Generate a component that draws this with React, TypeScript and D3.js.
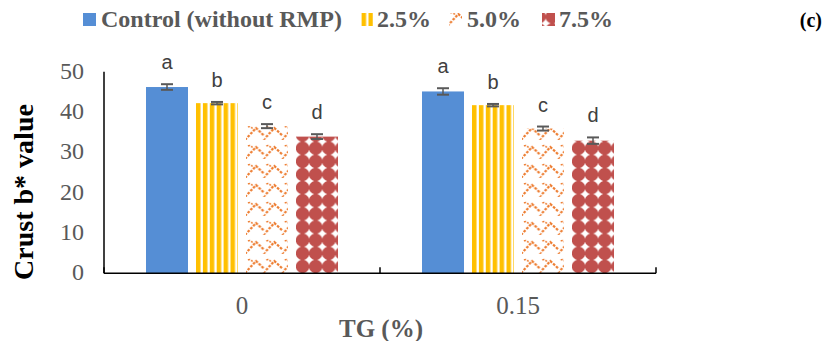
import React from "react";
import * as d3 from "d3";

const categories = ["0", "0.15"];
const seriesNames = ["Control (without RMP)", "2.5%", "5.0%", "7.5%"];
const control = [46.2, 45.1];
const rmp25 = [42.2, 41.7];
const rmp50 = [36.5, 35.9];
const rmp75 = [33.9, 32.9];
const errControl = [0.7, 0.8];
const err25 = [0.3, 0.3];
const err50 = [0.5, 0.5];
const err75 = [0.6, 0.8];
const letters = ["a", "b", "c", "d"];
const yTicks = [0, 10, 20, 30, 40, 50];

const values = [control, rmp25, rmp50, rmp75];
const errors = [errControl, err25, err50, err75];
const fills = ["#558ED5", "url(#pYellow)", "url(#pOrange)", "url(#pRed)"];

const W = 827, H = 341;
const plotLeft = 104, plotRight = 656, plotTop = 71.7, plotBottom = 273.3;

export default function App() {
  const x = d3.scaleBand().domain(categories).range([plotLeft, plotRight]).padding(0);
  const groupW = 192;
  const xi = d3.scaleBand().domain(seriesNames).range([0, groupW]).paddingInner(0.16).paddingOuter(0);
  const y = d3.scaleLinear().domain([0, 50]).range([plotBottom, plotTop]);
  const serif = "'Liberation Serif', 'Times New Roman', serif";
  const grey = "#595959";

  const legendItems = [
    { x: 83, tx: 101, fill: fills[0] },
    { x: 360, tx: 377, fill: fills[1] },
    { x: 449, tx: 467, fill: fills[2] },
    { x: 542, tx: 559, fill: fills[3] },
  ];

  return (
    <svg width={W} height={H} style={{ position: "absolute", left: 0, top: 0, display: "block", background: "#fff" }}>
      <defs>
        <pattern id="pYellow" patternUnits="userSpaceOnUse" x={196} y={0} width={6.9} height={10}>
          <rect x={0} y={0} width={4.5} height={10} fill="#FFC000" />
        </pattern>
        <pattern id="pOrange" patternUnits="userSpaceOnUse" x={246} y={273} width={18.4} height={19}>
          <path d="M-1,19 L10,7 L18.4,15 M17.4,20 L19.4,18" fill="none" stroke="#ED7D31" strokeWidth={2.2} strokeDasharray="2.6,1.4" />
          <path d="M2,6 Q5,4 7,9" fill="none" stroke="#ED7D31" strokeWidth={1.6} strokeDasharray="2,1.5" />
        </pattern>
        <pattern id="pRed" patternUnits="userSpaceOnUse" x={296} y={273} width={13.14} height={13.14}>
          <circle cx={6.57} cy={6.57} r={6.75} fill="#C0504D" />
        </pattern>
      </defs>

      {/* legend */}
      {legendItems.map((d, i) => (
        <g key={seriesNames[i]}>
          <rect x={d.x} y={13} width={13} height={13} fill={d.fill} />
          <text x={d.tx} y={27} fontFamily={serif} fontWeight="bold" fontSize={24} fill={grey}>
            {seriesNames[i]}
          </text>
        </g>
      ))}
      <text x={822} y={27} textAnchor="end" fontFamily={serif} fontWeight="bold" fontSize={20} fill="#000">(c)</text>

      {/* bars */}
      {categories.map((c, ci) => {
        const cx = (x(c) as number) + x.bandwidth() / 2 - groupW / 2;
        return (
          <g key={c}>
            {seriesNames.map((s, si) => {
              const v = values[si][ci];
              const e = errors[si][ci];
              const bx = cx + (xi(s) as number);
              const bw = xi.bandwidth();
              const mid = bx + bw / 2;
              return (
                <g key={s}>
                  <rect x={bx} y={y(v)} width={bw} height={plotBottom - y(v)} fill={fills[si]} />
                  <line x1={mid} x2={mid} y1={y(v + e)} y2={y(v - e)} stroke={grey} strokeWidth={1.5} />
                  <line x1={mid - 6} x2={mid + 6} y1={y(v + e)} y2={y(v + e)} stroke={grey} strokeWidth={2} />
                  <line x1={mid - 6} x2={mid + 6} y1={y(v - e)} y2={y(v - e)} stroke={grey} strokeWidth={2} />
                  <text x={mid} y={y(v + e) - 15} textAnchor="middle" fontFamily="'Liberation Sans', Arial, sans-serif" fontSize={20} fill="#404040">
                    {letters[si]}
                  </text>
                </g>
              );
            })}
          </g>
        );
      })}

      {/* axes */}
      <line x1={plotLeft} x2={plotLeft} y1={plotTop} y2={plotBottom} stroke="#000" strokeWidth={1.5} />
      <line x1={plotLeft} x2={plotRight} y1={plotBottom} y2={plotBottom} stroke="#000" strokeWidth={1.5} />
      {[plotLeft, plotLeft + x.step(), plotRight].map((t, i) => (
        <line key={i} x1={t} x2={t} y1={plotBottom} y2={plotBottom - 6} stroke="#000" strokeWidth={1.5} />
      ))}
      {yTicks.map((t) => (
        <text key={t} x={84} y={y(t) + 7} textAnchor="end" fontFamily={serif} fontSize={24} fill={grey}>
          {t}
        </text>
      ))}
      {categories.map((c) => (
        <text key={c} x={(x(c) as number) + x.bandwidth() / 2} y={314} textAnchor="middle" fontFamily={serif} fontSize={25} fill={grey}>
          {c}
        </text>
      ))}
      <text x={381} y={337} textAnchor="middle" fontFamily={serif} fontWeight="bold" fontSize={25} fill={grey}>TG (%)</text>
      <text transform={`translate(33,192) rotate(-90)`} textAnchor="middle" fontFamily={serif} fontWeight="bold" fontSize={28} fill="#000">
        Crust b* value
      </text>
    </svg>
  );
}
